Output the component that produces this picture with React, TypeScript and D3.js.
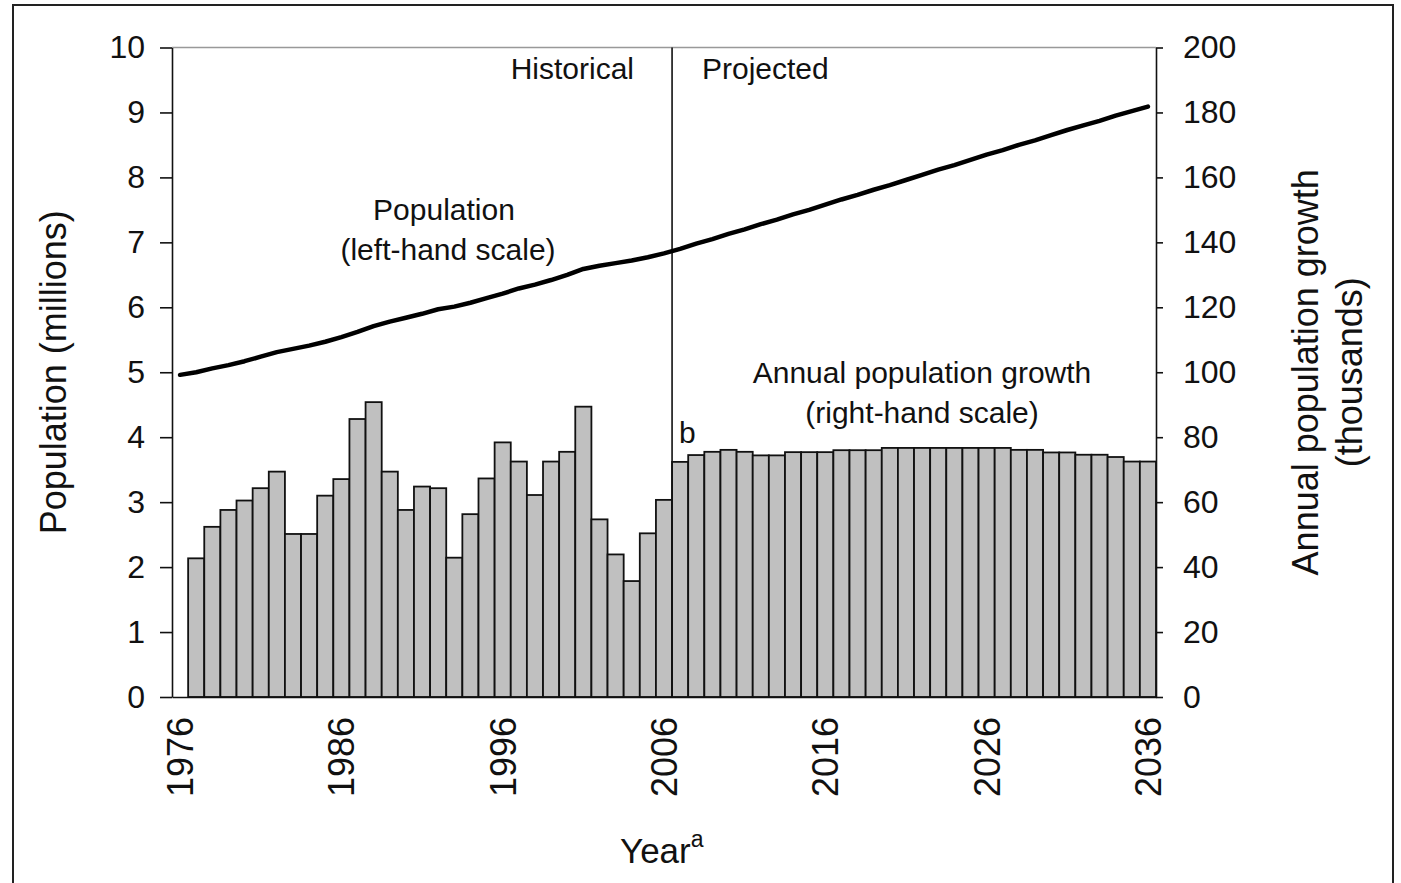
import { useEffect, useRef } from "react";
import * as d3 from "d3";

// years shown on the x axis (one band per year)
const years = d3.range(1976, 2037);
const yearTicks = [1976, 1986, 1996, 2006, 2016, 2026, 2036];
const leftTicks = [0, 1, 2, 3, 4, 5, 6, 7, 8, 9, 10];
const rightTicks = [0, 20, 40, 60, 80, 100, 120, 140, 160, 180, 200];

// annual growth, thousands (1977-2006 historical, 2007-2036 projected)
const growthHistorical = [
  42.7, 52.4, 57.6, 60.5, 64.3, 69.4, 50.2, 50.2, 62.0, 67.1, 85.6, 90.8, 69.4,
  57.6, 64.8, 64.3, 42.9, 56.3, 67.3, 78.4, 72.5, 62.2, 72.5, 75.5, 89.4, 54.7,
  43.9, 35.7, 50.4, 60.7,
];
const growthProjected = [
  72.4, 74.5, 75.5, 76.1, 75.5, 74.4, 74.4, 75.4, 75.4, 75.4, 76.0, 76.0, 76.0,
  76.7, 76.7, 76.7, 76.7, 76.7, 76.7, 76.7, 76.7, 76.1, 76.1, 75.3, 75.3, 74.6,
  74.6, 73.9, 72.5, 72.5,
];

// population, millions, 1976-2036
const population = [
  4.96, 5.0, 5.06, 5.11, 5.17, 5.24, 5.31, 5.36, 5.41, 5.47, 5.54, 5.62, 5.71,
  5.78, 5.84, 5.9, 5.97, 6.01, 6.07, 6.14, 6.21, 6.29, 6.35, 6.42, 6.5, 6.59,
  6.64, 6.68, 6.72, 6.77, 6.83, 6.9, 6.98, 7.05, 7.13, 7.2, 7.28, 7.35, 7.43,
  7.5, 7.58, 7.66, 7.73, 7.81, 7.88, 7.96, 8.04, 8.12, 8.19, 8.27, 8.35, 8.42,
  8.5, 8.57, 8.65, 8.73, 8.8, 8.87, 8.95, 9.02, 9.09,
];

const FONT = "'Liberation Sans', Arial, sans-serif";

export default function App() {
  const svgRef = useRef<SVGSVGElement>(null);

  useEffect(() => {
    if (!svgRef.current) return;
    const svg = d3.select(svgRef.current);
    svg.selectAll("*").remove();

    const left = 172;
    const right = 1156;
    const top = 47.5;
    const bottom = 697;

    const x = d3
      .scaleBand<number>()
      .domain(years)
      .range([left, right])
      .padding(0);
    const yLeft = d3.scaleLinear().domain([0, 10]).range([bottom, top]);
    const yRight = d3.scaleLinear().domain([0, 200]).range([bottom, top]);

    const growth = [...growthHistorical, ...growthProjected].map((v, i) => ({
      year: 1977 + i,
      value: v,
    }));

    // outer frame
    svg
      .append("rect")
      .attr("x", 13)
      .attr("y", 5)
      .attr("width", 1380)
      .attr("height", 900)
      .attr("fill", "none")
      .attr("stroke", "#222")
      .attr("stroke-width", 2);

    // top border of plot
    svg
      .append("line")
      .attr("x1", left)
      .attr("x2", right)
      .attr("y1", top)
      .attr("y2", top)
      .attr("stroke", "#999")
      .attr("stroke-width", 1.5);

    // bars
    svg
      .append("g")
      .selectAll("rect")
      .data(growth)
      .enter()
      .append("rect")
      .attr("x", (d) => x(d.year) || 0)
      .attr("y", (d) => yRight(d.value))
      .attr("width", x.bandwidth())
      .attr("height", (d) => bottom - yRight(d.value))
      .attr("fill", "#c0c0c0")
      .attr("stroke", "#111")
      .attr("stroke-width", 1.8);

    // historical / projected divider
    const divX = x(2007) || 0;
    svg
      .append("line")
      .attr("x1", divX)
      .attr("x2", divX)
      .attr("y1", top)
      .attr("y2", bottom)
      .attr("stroke", "#111")
      .attr("stroke-width", 1.6);

    // population line
    const line = d3
      .line<number>()
      .x((_, i) => (x(years[i]) || 0) + x.bandwidth() / 2)
      .y((d) => yLeft(d));
    svg
      .append("path")
      .datum(population)
      .attr("d", line)
      .attr("fill", "none")
      .attr("stroke", "#000")
      .attr("stroke-width", 4.5)
      .attr("stroke-linejoin", "round")
      .attr("stroke-linecap", "round");

    // left axis
    const gl = svg
      .append("g")
      .attr("transform", `translate(${left},0)`)
      .call(
        d3
          .axisLeft(yLeft)
          .tickValues(leftTicks)
          .tickSize(12)
          .tickSizeOuter(0)
          .tickPadding(15)
      );
    // right axis
    const gr = svg
      .append("g")
      .attr("transform", `translate(${right},0)`)
      .call(
        d3
          .axisRight(yRight)
          .tickValues(rightTicks)
          .tickSize(7)
          .tickSizeOuter(0)
          .tickPadding(20)
      );
    [gl, gr].forEach((g) => {
      g.select(".domain").attr("stroke", "#111").attr("stroke-width", 1.6);
      g.selectAll(".tick line").attr("stroke", "#111").attr("stroke-width", 1.6);
      g.selectAll("text")
        .attr("fill", "#111")
        .style("font-family", FONT)
        .style("font-size", "32px");
    });

    // x axis
    const gx = svg
      .append("g")
      .attr("transform", `translate(0,${bottom})`)
      .call(
        d3.axisBottom(x).tickValues(yearTicks).tickSize(0).tickSizeOuter(0)
      );
    gx.select(".domain").attr("stroke", "#111").attr("stroke-width", 1.6);
    gx.selectAll("text")
      .attr("transform", "rotate(-90)")
      .attr("x", -20)
      .attr("y", 0)
      .attr("dy", "0.36em")
      .style("text-anchor", "end")
      .attr("fill", "#111")
      .style("font-family", FONT)
      .style("font-size", "36px");

    const label = (
      tx: number,
      ty: number,
      text: string,
      size: number,
      anchor = "middle",
      rotate = false
    ) =>
      svg
        .append("text")
        .attr("transform", `translate(${tx},${ty})${rotate ? " rotate(-90)" : ""}`)
        .attr("text-anchor", anchor)
        .attr("fill", "#111")
        .style("font-family", FONT)
        .style("font-size", `${size}px`)
        .text(text);

    // axis titles
    label(66, (top + bottom) / 2, "Population (millions)", 36, "middle", true);
    label(1318, (top + bottom) / 2, "Annual population growth", 36, "middle", true);
    label(1362, (top + bottom) / 2, "(thousands)", 36, "middle", true);

    const yearTitle = svg
      .append("text")
      .attr("x", 620)
      .attr("y", 863)
      .attr("fill", "#111")
      .style("font-family", FONT)
      .style("font-size", "35px");
    yearTitle.append("tspan").text("Year");
    yearTitle
      .append("tspan")
      .attr("dy", -16)
      .style("font-size", "23px")
      .text("a");

    // annotations
    label(634, 79, "Historical", 30, "end");
    label(702, 79, "Projected", 30, "start");
    label(444, 220, "Population", 30);
    label(448, 260, "(left-hand scale)", 30);
    label(922, 383, "Annual population growth", 30);
    label(922, 423, "(right-hand scale)", 30);
    label(679, 443, "b", 30, "start");
  }, []);

  return (
    <svg
      ref={svgRef}
      width={1401}
      height={883}
      style={{ position: "absolute", left: 0, top: 0, background: "#fff" }}
    />
  );
}
